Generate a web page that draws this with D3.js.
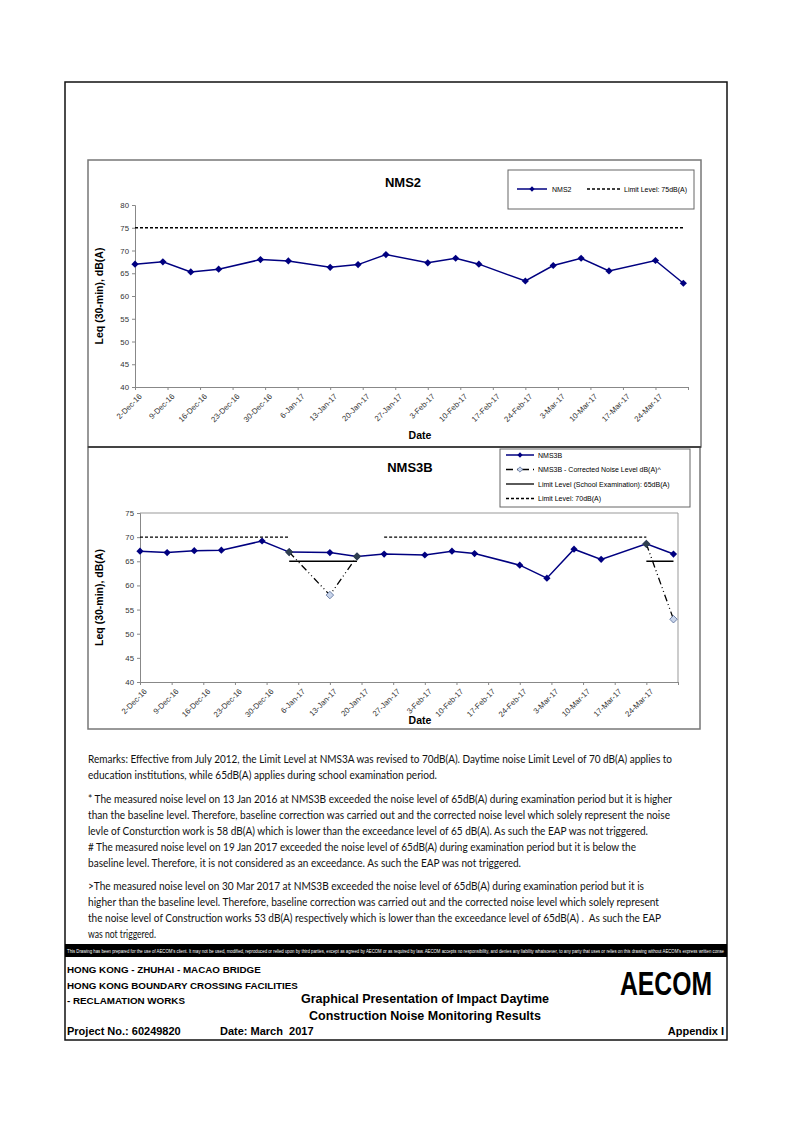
<!DOCTYPE html>
<html><head><meta charset="utf-8">
<script src="https://cdn.jsdelivr.net/npm/d3@7"></script>
<style>
html,body{margin:0;padding:0;background:#fff;}
svg{display:block;}
</style></head>
<body>
<svg id="page" width="794" height="1123"></svg>
<script>
// ---------------- DATA ----------------
const dates = ["2016-12-02","2016-12-08","2016-12-14","2016-12-20","2016-12-29","2017-01-04","2017-01-13","2017-01-19","2017-01-25","2017-02-03","2017-02-09","2017-02-14","2017-02-24","2017-03-02","2017-03-08","2017-03-14","2017-03-24","2017-03-30"];
const nms2 = [67.0,67.5,65.3,65.9,68.0,67.7,66.3,66.9,69.1,67.3,68.3,67.0,63.3,66.7,68.3,65.5,67.8,62.8];
const nms2Limit = [75,75,75,75,75,75,75,75,75,75,75,75,75,75,75,75,75,75];
const nms3b = [67.1,66.8,67.2,67.3,69.2,66.9,66.8,66.0,66.5,66.3,67.1,66.6,64.2,61.5,67.5,65.4,68.6,66.5];
const nms3bCorrected = [null,null,null,null,null,66.9,58.0,66.0,null,null,null,null,null,null,null,null,68.6,53.0];
const limitSchool65 = [null,null,null,null,null,65,65,65,null,null,null,null,null,null,null,null,65,65];
const limit70 = [70,70,70,70,70,70,null,null,70,70,70,70,70,70,70,70,70,null];
const xTickDates = ["2016-12-02","2016-12-09","2016-12-16","2016-12-23","2016-12-30","2017-01-06","2017-01-13","2017-01-20","2017-01-27","2017-02-03","2017-02-10","2017-02-17","2017-02-24","2017-03-03","2017-03-10","2017-03-17","2017-03-24","2017-03-31"];
const xTickLabels = ["2-Dec-16","9-Dec-16","16-Dec-16","23-Dec-16","30-Dec-16","6-Jan-17","13-Jan-17","20-Jan-17","27-Jan-17","3-Feb-17","10-Feb-17","17-Feb-17","24-Feb-17","3-Mar-17","10-Mar-17","17-Mar-17","24-Mar-17",""];
const xDomain = ["2016-12-02","2017-03-31"];
const yTicksTop = [40,45,50,55,60,65,70,75,80];
const yTicksBottom = [40,45,50,55,60,65,70,75];

const remarks = [
 "Remarks: Effective from July 2012, the Limit Level at NMS3A was revised to 70dB(A). Daytime noise Limit Level of 70 dB(A) applies to",
 "education institutions, while 65dB(A) applies during school examination period.",
 "* The measured noise level on 13 Jan 2016 at NMS3B exceeded the noise level of 65dB(A) during examination period but it is higher",
 "than the baseline level. Therefore, baseline correction was carried out and the corrected noise level which solely represent the noise",
 "levle of Consturction work is 58 dB(A) which is lower than the exceedance level of 65 dB(A). As such the EAP was not triggered.",
 "# The measured noise level on 19 Jan 2017 exceeded the noise level of 65dB(A) during examination period but it is below the",
 "baseline level. Therefore, it is not considered as an exceedance. As such the EAP was not triggered.",
 ">The measured noise level on 30 Mar 2017 at NMS3B exceeded the noise level of 65dB(A) during examination period but it is",
 "higher than the baseline level. Therefore, baseline correction was carried out and the corrected noise level which solely represent",
 "the noise level of Construction works 53 dB(A) respectively which is lower than the exceedance level of 65dB(A) .\u00a0 As such the EAP",
 "was not triggered."
];
const remarkY = [763,779,803,819,835,851,867,890,906,922,938];
const remarkW = [584,349,584,582,560,548,433,556,571,573,68];

// ---------------- DRAW ----------------
const parse = d3.timeParse("%Y-%m-%d");
const dts = dates.map(parse);
const svg = d3.select("#page");
const AX = "Arial, 'Liberation Sans', sans-serif";

svg.append("rect").attr("x",65).attr("y",82).attr("width",662).attr("height",958)
  .attr("fill","none").attr("stroke","#111").attr("stroke-width",1.5);

svg.append("rect").attr("x",88).attr("y",160).attr("width",613).attr("height",287)
  .attr("fill","none").attr("stroke","#777").attr("stroke-width",1.5);
svg.append("rect").attr("x",88).attr("y",447).attr("width",612).attr("height",282)
  .attr("fill","none").attr("stroke","#777").attr("stroke-width",1.5);
svg.append("line").attr("x1",88).attr("x2",701).attr("y1",447).attr("y2",447)
  .attr("stroke","#444").attr("stroke-width",2);

function diamondPath(size){ return d3.symbol(d3.symbolSquare,size)(); }

function drawChart(cfg){
  const g = svg.append("g");
  const x = d3.scaleTime().domain(xDomain.map(parse)).range([cfg.left,cfg.right]);
  const y = d3.scaleLinear().domain([40,cfg.ymax]).range([cfg.bottom,cfg.top]);

  if(cfg.frame){
    g.append("line").attr("x1",cfg.left).attr("x2",cfg.right).attr("y1",cfg.top).attr("y2",cfg.top).attr("stroke","#999").attr("stroke-width",1);
    g.append("line").attr("x1",cfg.right).attr("x2",cfg.right).attr("y1",cfg.top).attr("y2",cfg.bottom).attr("stroke","#999").attr("stroke-width",1);
  }

  const xa = g.append("g").attr("transform",`translate(0,${cfg.bottom})`)
    .call(d3.axisBottom(x).tickValues(xTickDates.map(parse)).tickSize(3)
      .tickFormat((d,i)=>xTickLabels[i]));
  xa.select(".domain").attr("stroke","#888");
  xa.selectAll(".tick line").attr("stroke","#888");
  xa.selectAll(".tick text").attr("font-family",AX).attr("font-size",7.8).attr("fill","#333")
    .attr("text-anchor","end").attr("transform","translate(5,8) rotate(-45)").attr("dy","0.35em").attr("y",0).attr("x",0);

  const ya = g.append("g").attr("transform",`translate(${cfg.left},0)`)
    .call(d3.axisLeft(y).tickValues(cfg.yticks).tickSize(3).tickFormat(d3.format("d")));
  ya.select(".domain").attr("stroke","#888");
  ya.selectAll(".tick line").attr("stroke","#888");
  ya.selectAll(".tick text").attr("font-family",AX).attr("font-size",7.8).attr("fill","#333").attr("x",-6);

  g.append("text").attr("x",cfg.titleX).attr("y",cfg.titleY).attr("text-anchor","middle")
    .attr("font-family",AX).attr("font-weight","bold").attr("font-size",13).text(cfg.title);
  g.append("text").attr("transform",`translate(${cfg.yLabelX},${(cfg.top+cfg.bottom)/2}) rotate(-90)`)
    .attr("text-anchor","middle").attr("font-family",AX).attr("font-weight","bold").attr("font-size",10.5)
    .text("Leq (30-min), dB(A)");
  g.append("text").attr("x",cfg.dateX).attr("y",cfg.dateY).attr("text-anchor","middle")
    .attr("font-family",AX).attr("font-weight","bold").attr("font-size",10.5).text("Date");

  return {g,x,y};
}

// ---- Top chart NMS2
const chartTop = drawChart({left:135,right:688,top:205,bottom:387,ymax:80,yticks:yTicksTop,
  title:"NMS2",titleX:403,titleY:187,yLabelX:103,dateX:420,dateY:439,frame:false});
{
  const {g,x,y} = chartTop;
  const ln = d3.line().defined(d=>d[1]!=null).x(d=>x(d[0])).y(d=>y(d[1]));
  g.append("path").datum(dts.map((d,i)=>[d,nms2Limit[i]])).attr("d",ln)
    .attr("fill","none").attr("stroke","#000").attr("stroke-width",1.3).attr("stroke-dasharray","3,2");
  g.append("path").datum(dts.map((d,i)=>[d,nms2[i]]))
    .attr("d",ln).attr("fill","none").attr("stroke","#000080").attr("stroke-width",1.5);
  g.selectAll(".m").data(dts.map((d,i)=>[d,nms2[i]])).join("path")
    .attr("d",diamondPath(26)).attr("transform",d=>`translate(${x(d[0])},${y(d[1])}) rotate(45)`)
    .attr("fill","#000080");

  const lg = svg.append("g");
  lg.append("rect").attr("x",508).attr("y",170).attr("width",186).attr("height",39)
    .attr("fill","#fff").attr("stroke","#666").attr("stroke-width",1);
  lg.append("line").attr("x1",517).attr("x2",547).attr("y1",189).attr("y2",189).attr("stroke","#000080").attr("stroke-width",1.5);
  lg.append("path").attr("d",diamondPath(14)).attr("transform","translate(532,189) rotate(45)").attr("fill","#000080");
  lg.append("text").attr("x",552).attr("y",191.5).attr("font-family",AX).attr("font-size",7).text("NMS2");
  lg.append("line").attr("x1",587).attr("x2",620).attr("y1",189).attr("y2",189).attr("stroke","#000").attr("stroke-width",1.3).attr("stroke-dasharray","3,2");
  lg.append("text").attr("x",624).attr("y",191.5).attr("font-family",AX).attr("font-size",7).text("Limit Level: 75dB(A)");
}

// ---- Bottom chart NMS3B
const chartBot = drawChart({left:140,right:678,top:513,bottom:682,ymax:75,yticks:yTicksBottom,
  title:"NMS3B",titleX:410,titleY:472,yLabelX:103,dateX:420,dateY:724,frame:true});
{
  const {g,x,y} = chartBot;
  const ln = d3.line().defined(d=>d[1]!=null).x(d=>x(d[0])).y(d=>y(d[1]));
  g.append("path").datum(dts.map((d,i)=>[d,limit70[i]])).attr("d",ln)
    .attr("fill","none").attr("stroke","#000").attr("stroke-width",1.3).attr("stroke-dasharray","3,2");
  g.append("path").datum(dts.map((d,i)=>[d,limitSchool65[i]])).attr("d",ln)
    .attr("fill","none").attr("stroke","#000").attr("stroke-width",1.5);
  g.append("path").datum(dts.map((d,i)=>[d,nms3b[i]])).attr("d",ln)
    .attr("fill","none").attr("stroke","#000080").attr("stroke-width",1.5);
  g.selectAll(".m").data(dts.map((d,i)=>[d,nms3b[i]])).join("path")
    .attr("d",diamondPath(26)).attr("transform",d=>`translate(${x(d[0])},${y(d[1])}) rotate(45)`)
    .attr("fill","#000080");
  g.append("path").datum(dts.map((d,i)=>[d,nms3bCorrected[i]])).attr("d",ln)
    .attr("fill","none").attr("stroke","#000").attr("stroke-width",1.3).attr("stroke-dasharray","7,3,1,3,1,3");
  const corr = dts.map((d,i)=>[d,nms3bCorrected[i],nms3b[i]]).filter(d=>d[1]!=null);
  g.selectAll(".c").data(corr).join("path")
    .attr("d",diamondPath(28)).attr("transform",d=>`translate(${x(d[0])},${y(d[1])}) rotate(45)`)
    .attr("fill",d=>d[1]===d[2]?"#2f3f4f":"#c8d4ea")
    .attr("stroke",d=>d[1]===d[2]?"#2f3f4f":"#5a6f9a").attr("stroke-width",0.8);

  const lg = svg.append("g");
  lg.append("rect").attr("x",500).attr("y",449).attr("width",190).attr("height",58)
    .attr("fill","#fff").attr("stroke","#666").attr("stroke-width",1);
  const rows=[455,469.5,484,498.5];
  lg.append("line").attr("x1",506).attr("x2",534).attr("y1",rows[0]).attr("y2",rows[0]).attr("stroke","#000080").attr("stroke-width",1.5);
  lg.append("path").attr("d",diamondPath(14)).attr("transform",`translate(520,${rows[0]}) rotate(45)`).attr("fill","#000080");
  lg.append("line").attr("x1",506).attr("x2",534).attr("y1",rows[1]).attr("y2",rows[1]).attr("stroke","#000").attr("stroke-width",1.3).attr("stroke-dasharray","7,4,1,4");
  lg.append("path").attr("d",diamondPath(14)).attr("transform",`translate(520,${rows[1]}) rotate(45)`).attr("fill","#c8d4ea").attr("stroke","#5a6f9a").attr("stroke-width",0.7);
  lg.append("line").attr("x1",506).attr("x2",534).attr("y1",rows[2]).attr("y2",rows[2]).attr("stroke","#000").attr("stroke-width",1.3);
  lg.append("line").attr("x1",506).attr("x2",534).attr("y1",rows[3]).attr("y2",rows[3]).attr("stroke","#000").attr("stroke-width",1.3).attr("stroke-dasharray","3,2");
  const lt = ["NMS3B","NMS3B - Corrected Noise Level dB(A)^","Limit Level (School Examination): 65dB(A)","Limit Level: 70dB(A)"];
  lt.forEach((t,i)=>lg.append("text").attr("x",538).attr("y",rows[i]+2.5).attr("font-family",AX).attr("font-size",7).text(t));
}

// ---------------- REMARKS ----------------
const rg = svg.append("g");
remarks.forEach((t,i)=>{
  rg.append("text").attr("x",88).attr("y",remarkY[i]).attr("font-family","Lato, 'Open Sans', sans-serif")
    .attr("font-size",10.5).attr("fill","#111").attr("textLength",remarkW[i]).attr("lengthAdjust","spacingAndGlyphs").text(t);
});

// ---------------- FOOTER ----------------
svg.append("rect").attr("x",65).attr("y",944).attr("width",662).attr("height",13).attr("fill","#000");
svg.append("text").attr("x",67).attr("y",952.5).attr("font-family",AX).attr("font-size",4.6).attr("fill","#fff")
  .attr("textLength",657).attr("lengthAdjust","spacingAndGlyphs")
  .text("This Drawing has been prepared for the use of AECOM's client. It may not be used, modified, reproduced or relied upon by third parties, except as agreed by AECOM or as required by law. AECOM accepts no responsibility, and denies any liability whatsoever, to any party that uses or relies on this drawing without AECOM's express written conse");
const F = "Arial, 'Liberation Sans', sans-serif";
[["HONG KONG - ZHUHAI - MACAO BRIDGE",973],["HONG KONG BOUNDARY CROSSING FACILITIES",989],["- RECLAMATION WORKS",1004]]
 .forEach(([t,yy])=>svg.append("text").attr("x",67).attr("y",yy).attr("font-family",F).attr("font-weight","bold").attr("font-size",9.8).text(t));
svg.append("text").attr("x",425).attr("y",1003).attr("text-anchor","middle").attr("font-family",F).attr("font-weight","bold").attr("font-size",12.5).text("Graphical Presentation of Impact Daytime");
svg.append("text").attr("x",425).attr("y",1020).attr("text-anchor","middle").attr("font-family",F).attr("font-weight","bold").attr("font-size",12.5).text("Construction Noise Monitoring Results");
svg.append("text").attr("x",67).attr("y",1035).attr("font-family",F).attr("font-weight","bold").attr("font-size",11).text("Project No.: 60249820");
svg.append("text").attr("x",220).attr("y",1035).attr("font-family",F).attr("font-weight","bold").attr("font-size",11).text("Date: March\u00a0 2017");
svg.append("text").attr("x",724).attr("y",1035).attr("text-anchor","end").attr("font-family",F).attr("font-weight","bold").attr("font-size",11).text("Appendix I");
svg.append("text").attr("x",666).attr("y",995).attr("text-anchor","middle").attr("font-family",F).attr("font-weight","900").attr("font-size",33)
  .attr("textLength",92).attr("lengthAdjust","spacingAndGlyphs").text("AECOM");
</script>
</body></html>
